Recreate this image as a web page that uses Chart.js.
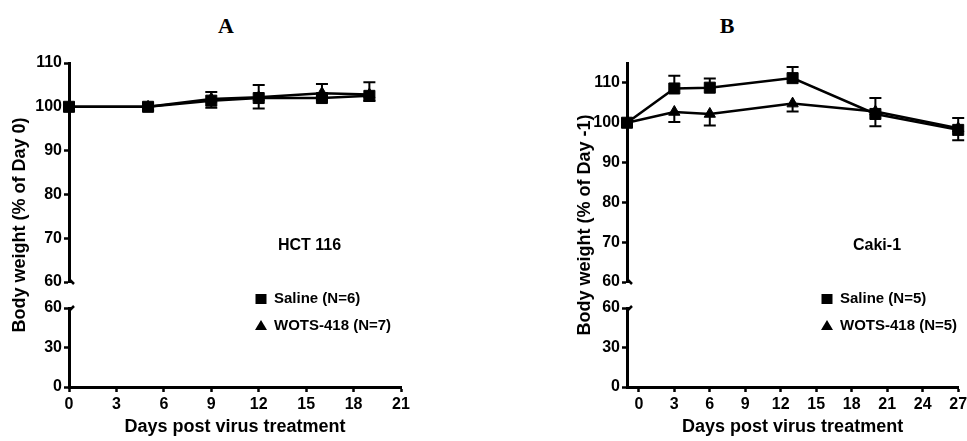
<!DOCTYPE html>
<html>
<head>
<meta charset="utf-8">
<script src="https://cdn.jsdelivr.net/npm/chart.js@4"></script>
<style>
  body { margin: 0; background: #fff; width: 967px; height: 441px; overflow: hidden; position: relative; }
  canvas { position: absolute; top: 0; }
  .tag { position: absolute; top: 15px; width: 40px; text-align: center; font: bold 22px "Liberation Serif", "Times New Roman", serif; line-height: 21px; color: #000; }
</style>
</head>
<body>
<div class="tag" style="left:206px">A</div>
<div class="tag" style="left:707px">B</div>
<canvas id="chart-a" width="484" height="441" style="left:0"></canvas>
<canvas id="chart-b" width="484" height="441" style="left:483px"></canvas>
<script>
// panel A - HCT 116
var cellA = "HCT 116";
var daysA = [0, 5, 9, 12, 16, 19];
var salineA = [100, 100, 101.4, 102, 102, 102.5];   // % of day 0
var wotsA = [100, 100, 101.8, 102.2, 103.1, 102.8];
var salineErrA = [0, 0.8, 2.0, 3.0, 3.2, 3.1];       // drawn upwards
var wotsErrA = [0, 0.8, 2.0, 2.6, 1.5, 1.5];         // drawn downwards
var labelsA = ["Saline (N=6)", "WOTS-418 (N=7)"];
var xTicksA = [0, 3, 6, 9, 12, 15, 18, 21];
var yTopTicksA = [60, 70, 80, 90, 100, 110];

// panel B - Caki-1
var cellB = "Caki-1";
var daysB = [-1, 3, 6, 13, 20, 27];
var salineB = [100, 108.6, 108.8, 111.2, 102.2, 98.2]; // % of day -1
var wotsB = [100, 102.7, 102.2, 104.8, 102.8, 98.6];
var salineErrB = [0, 3.2, 2.3, 2.8, 4.0, 3.0];
var wotsErrB = [0, 2.5, 2.9, 2.0, 3.7, 3.0];
var labelsB = ["Saline (N=5)", "WOTS-418 (N=5)"];
var xTicksB = [0, 3, 6, 9, 12, 15, 18, 21, 24, 27];
var yTopTicksB = [60, 70, 80, 90, 100, 110];

var yBotTicks = [0, 30, 60];

var FONT = "'Liberation Sans', Arial, Helvetica, sans-serif";
Chart.defaults.font.family = FONT;
Chart.defaults.color = "#000";

function pts(days, vals) {
  return days.map(function (d, i) { return { x: d, y: vals[i] }; });
}

function tickList(values) {
  return function (scale) {
    scale.ticks = values.map(function (v) { return { value: v }; });
  };
}

// error bars (saline upwards, WOTS downwards, like the original figure)
var errorBars = {
  id: "errorBars",
  beforeDatasetsDraw: function (chart) {
    var ctx = chart.ctx;
    var xs = chart.scales.x, ys = chart.scales.yTop;
    ctx.save();
    ctx.strokeStyle = "#000";
    ctx.lineWidth = 2;
    chart.data.datasets.forEach(function (ds) {
      ds.data.forEach(function (p, i) {
        var e = ds.errors[i];
        if (!e) return;
        var x = xs.getPixelForValue(p.x);
        var y0 = ys.getPixelForValue(p.y);
        var y1 = ys.getPixelForValue(p.y + ds.errDir * e);
        ctx.beginPath();
        ctx.moveTo(x, y0); ctx.lineTo(x, y1);
        ctx.moveTo(x - 6, y1); ctx.lineTo(x + 6, y1);
        ctx.stroke();
      });
    });
    ctx.restore();
  }
};

function marker(ctx, style, x, y) {
  ctx.beginPath();
  if (style === "rect") {
    ctx.rect(x - 5.5, y - 5, 11, 10);
  } else {
    ctx.moveTo(x, y - 6);
    ctx.lineTo(x + 6, y + 4);
    ctx.lineTo(x - 6, y + 4);
    ctx.closePath();
  }
  ctx.fill();
}

// y title spanning both axis pieces, break hooks, cell name and legend
var panelDeco = {
  id: "panelDeco",
  afterDraw: function (chart, args, o) {
    var ctx = chart.ctx, area = chart.chartArea;
    var top = chart.scales.yTop, bot = chart.scales.yBot;
    ctx.save();
    ctx.fillStyle = "#000";
    ctx.strokeStyle = "#000";
    ctx.lineWidth = 2.5;
    ctx.beginPath();
    ctx.moveTo(area.left, top.bottom - 3); ctx.lineTo(area.left + 5, top.bottom + 2);
    ctx.moveTo(area.left, bot.top + 3); ctx.lineTo(area.left + 5, bot.top - 2);
    ctx.stroke();

    ctx.save();
    ctx.font = "bold 18px " + FONT;
    ctx.textAlign = "center";
    ctx.textBaseline = "middle";
    ctx.translate(o.yTitleX, (top.top + bot.bottom) / 2);
    ctx.rotate(-Math.PI / 2);
    ctx.fillText(o.yTitle, 0, 0);
    ctx.restore();

    ctx.textAlign = "left";
    ctx.textBaseline = "middle";
    ctx.font = "bold 16px " + FONT;
    ctx.fillText(o.cell, area.left + o.cellX, 246);
    ctx.font = "bold 15px " + FONT;
    chart.data.datasets.forEach(function (ds, i) {
      var y = 299 + i * 27;
      marker(ctx, ds.pointStyle, area.left + o.legendX - 13, y);
      ctx.fillText(ds.label, area.left + o.legendX, y);
    });
    ctx.restore();
  }
};

function axisStyle() {
  return {
    grid: { display: true, drawOnChartArea: false, drawTicks: true, tickLength: 5, tickWidth: 2.5, tickColor: "#000" },
    border: { display: true, color: "#000", width: 3 }
  };
}

function yPiece(min, max, ticks, weight, stackWeight, width) {
  var s = axisStyle();
  return {
    type: "linear", position: "left", stack: "y", weight: weight, stackWeight: stackWeight,
    min: min, max: max,
    grid: s.grid, border: s.border,
    ticks: { font: { size: 16, weight: "bold" }, padding: 2, color: "#000" },
    afterBuildTicks: tickList(ticks),
    afterFit: function (scale) {
      scale.width = width;
      scale.paddingTop = 0; scale.paddingBottom = 0;
    }
  };
}

function makeConfig(p) {
  var s = axisStyle();
  return {
    type: "line",
    data: {
      datasets: [{
        label: p.labels[0],
        data: pts(p.days, p.saline),
        errors: p.salineErr, errDir: 1,
        yAxisID: "yTop",
        pointStyle: "rect", pointRadius: 7.8,
        borderColor: "#000", backgroundColor: "#000", borderWidth: 2.5,
        pointBorderWidth: 1, clip: false
      }, {
        label: p.labels[1],
        data: pts(p.days, p.wots),
        errors: p.wotsErr, errDir: -1,
        yAxisID: "yTop",
        pointStyle: "triangle", pointRadius: 6.5,
        borderColor: "#000", backgroundColor: "#000", borderWidth: 2.5,
        pointBorderWidth: 1, clip: false
      }]
    },
    options: {
      responsive: false,
      animation: false,
      layout: { padding: { top: 63, right: p.padRight, bottom: 0, left: 0 } },
      plugins: {
        legend: { display: false },
        tooltip: { enabled: false },
        panelDeco: { yTitle: p.yTitle, yTitleX: p.yTitleX, cell: p.cell, cellX: p.cellX, legendX: p.legendX }
      },
      scales: {
        x: {
          type: "linear", position: "bottom", min: p.xMin, max: p.xMax,
          grid: s.grid, border: s.border,
          ticks: { font: { size: 16, weight: "bold" }, padding: 3, color: "#000" },
          title: { display: true, text: "Days post virus treatment", font: { size: 18, weight: "bold" }, color: "#000", padding: { top: 0, bottom: 3 } },
          afterBuildTicks: tickList(p.xTicks),
          afterFit: function (scale) {
            scale.height = 54;
            scale.paddingLeft = 0; scale.paddingRight = 0;
          }
        },
        yBot: yPiece(0, 60, yBotTicks, 1, 79, p.yWidth),
        yGap: { type: "linear", position: "left", stack: "y", weight: 2, stackWeight: 26, min: 0, max: 1, display: false },
        yTop: yPiece(60, p.yTopMax, p.yTopTicks, 3, 219, p.yWidth)
      }
    },
    plugins: [errorBars, panelDeco]
  };
}

var chartA = new Chart(document.getElementById("chart-a"), makeConfig({
  days: daysA, saline: salineA, wots: wotsA, salineErr: salineErrA, wotsErr: wotsErrA,
  labels: labelsA, xTicks: xTicksA, yTopTicks: yTopTicksA, xMin: 0, xMax: 21, yTopMax: 110,
  cell: cellA, yTitle: "Body weight (% of Day 0)",
  yWidth: 69, padRight: 83, yTitleX: 20, cellX: 209, legendX: 205
}));

var chartB = new Chart(document.getElementById("chart-b"), makeConfig({
  days: daysB, saline: salineB, wots: wotsB, salineErr: salineErrB, wotsErr: wotsErrB,
  labels: labelsB, xTicks: xTicksB, yTopTicks: yTopTicksB, xMin: -1, xMax: 27, yTopMax: 115,
  cell: cellB, yTitle: "Body weight (% of Day -1)",
  yWidth: 144, padRight: 8, yTitleX: 102, cellX: 226, legendX: 213
}));
</script>
</body>
</html>
